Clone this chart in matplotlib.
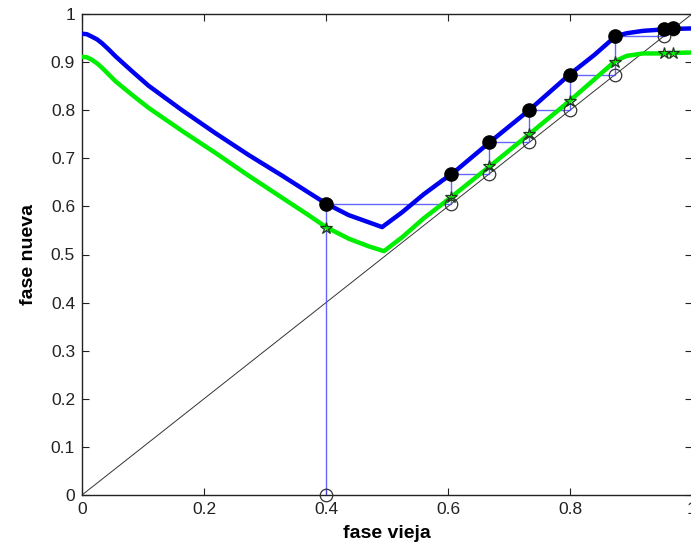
import numpy as np
import matplotlib
matplotlib.use('Agg')
import matplotlib.pyplot as plt

plt.rcParams['font.family'] = ['Liberation Sans', 'DejaVu Sans']

# curva azul (fase nueva)
blue_x = [0.0, 0.008, 0.016, 0.025, 0.033, 0.044, 0.055, 0.082, 0.109, 0.164, 0.219,
          0.273, 0.328, 0.37, 0.40, 0.437, 0.47, 0.492,
          0.525, 0.56, 0.592, 0.607, 0.668, 0.733, 0.80, 0.84, 0.875,
          0.893, 0.92, 0.954, 0.969, 1.0]
blue_y = [0.959, 0.958, 0.953, 0.947, 0.939, 0.926, 0.912, 0.881, 0.851, 0.800, 0.752,
          0.707, 0.664, 0.630, 0.606, 0.582, 0.567, 0.557,
          0.588, 0.625, 0.655, 0.668, 0.733, 0.80, 0.875, 0.915, 0.954,
          0.96, 0.965, 0.968, 0.969, 0.97]

# curva verde
green_x = [0.0, 0.008, 0.016, 0.025, 0.033, 0.044, 0.055, 0.082, 0.109, 0.164, 0.219,
           0.273, 0.328, 0.37, 0.40, 0.437, 0.47, 0.495,
           0.525, 0.56, 0.603, 0.668, 0.733, 0.80, 0.838, 0.874,
           0.893, 0.92, 0.954, 0.969, 1.0]
green_y = [0.911, 0.910, 0.905, 0.897, 0.888, 0.874, 0.860, 0.832, 0.805, 0.757, 0.711,
           0.664, 0.618, 0.583, 0.557, 0.533, 0.517, 0.507,
           0.536, 0.575, 0.617, 0.683, 0.75, 0.82, 0.862, 0.902,
           0.913, 0.918, 0.918, 0.919, 0.92]

# iteraciones
iter_x = [0.4, 0.605, 0.668, 0.733, 0.80, 0.873, 0.954, 0.969]
iter_blue = [0.605, 0.668, 0.733, 0.80, 0.873, 0.954, 0.969, 0.97]
iter_green = [0.555, 0.62, 0.683, 0.75, 0.82, 0.90, 0.918, 0.919]
circ_y = [0.0, 0.605, 0.668, 0.733, 0.80, 0.873, 0.954, 0.969]

fig = plt.figure(figsize=(6.91, 5.54), dpi=100)
ax = fig.add_axes([82 / 691, 59 / 554, 610 / 691, 481 / 554])

# diagonal
ax.plot([0, 1], [0, 1], color='#333333', lw=0.7, zorder=2)

# telarana
cx, cy = [iter_x[0]], [circ_y[0]]
for i in range(len(iter_x)):
    cx.append(iter_x[i]); cy.append(iter_blue[i])
    if i + 1 < len(iter_x):
        cx.append(iter_x[i + 1]); cy.append(iter_blue[i])
ax.plot(cx, cy, color='#4a4aff', lw=1.0, alpha=0.85, zorder=3)

ax.plot(green_x, green_y, color='#00ee00', lw=3.2, zorder=4, solid_capstyle='round')
ax.plot(blue_x, blue_y, color='#0000f0', lw=3.2, zorder=5, solid_capstyle='round')

ax.plot(iter_x, circ_y, 'o', ms=9, mfc='none', mec='#333333', mew=0.9, zorder=6,
        clip_on=False)
ax.plot(iter_x, iter_green, '*', ms=9, mfc='none', mec='#1a3a1a', mew=0.9, zorder=7)
ax.plot(iter_x, iter_blue, 'o', ms=9.5, color='black', zorder=8)

ax.set_xlim(0, 1)
ax.set_ylim(0, 1)
ax.set_xticks([0, 0.2, 0.4, 0.6, 0.8, 1])
ax.set_xticklabels(['0', '0.2', '0.4', '0.6', '0.8', '1'])
ax.set_yticks(np.arange(0, 1.01, 0.1))
ax.set_yticklabels(['0', '0.1', '0.2', '0.3', '0.4', '0.5', '0.6', '0.7', '0.8', '0.9', '1'])
ax.tick_params(direction='in', length=5, width=0.8, top=True, right=True,
               labelsize=12.5, colors='#222222', pad=5)
for s in ax.spines.values():
    s.set_linewidth(1.0)
    s.set_color('#222222')

ax.set_xlabel('fase vieja', fontsize=14, fontweight='bold', labelpad=6)
ax.set_ylabel('fase nueva', fontsize=14, fontweight='bold', labelpad=10)

fig.savefig('out.png', dpi=100)
